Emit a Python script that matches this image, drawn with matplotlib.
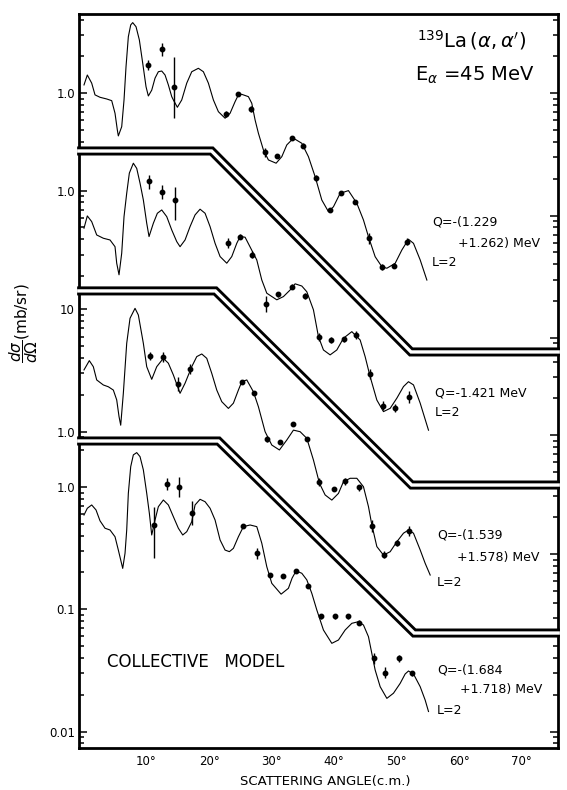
import numpy as np
import matplotlib.pyplot as plt
from matplotlib.ticker import NullFormatter

plt.rcParams['font.family'] = 'DejaVu Sans'

# ---- values: angle (deg, c.m.) and dsigma/dOmega (mb/sr) ----

# panel 1: Q = -(1.229 + 1.262) MeV
p1_curve_ang = [0.0, 0.53, 1.23, 1.76, 2.56, 3.63, 4.43, 4.96, 5.33, 5.49, 6.03, 6.40, 6.72, 7.09, 7.47,
                7.79, 8.32, 8.85, 9.39, 9.92, 10.29, 10.83, 11.36, 11.89, 12.43, 12.96, 13.49, 14.03,
                14.29, 14.93, 15.63, 16.43, 17.23, 18.29, 19.09, 19.89, 20.69, 21.49, 22.56, 23.36,
                24.16, 24.69, 25.23, 26.29, 26.83, 27.36, 27.89, 28.69, 29.49, 30.72, 31.63, 32.43,
                33.49, 34.83, 35.89, 36.96, 38.03, 39.09, 39.89, 40.96, 42.29, 43.63, 44.69, 45.49,
                46.56, 47.63, 48.43, 49.76, 50.83, 51.89, 52.69, 53.76, 54.83]
p1_curve_xs = [1.17, 1.41, 1.21, 0.97, 0.927, 0.898, 0.870, 0.686, 0.501, 0.448, 0.533, 0.882, 1.65, 2.90, 3.62,
               3.78, 3.50, 2.73, 1.76, 1.13, 0.95, 1.06, 1.33, 1.50, 1.52, 1.41, 1.17, 0.938,
               0.882, 0.768, 0.882, 1.21, 1.50, 1.60, 1.50, 1.21, 0.882, 0.707, 0.625, 0.686,
               0.854, 0.97, 0.98, 0.938, 0.828, 0.605, 0.471, 0.344, 0.285, 0.268, 0.303, 0.378,
               0.429, 0.390, 0.303, 0.208, 0.134, 0.1076, 0.118, 0.152, 0.160, 0.126, 0.092, 0.0672,
               0.0461, 0.0382, 0.0371, 0.0407, 0.0523, 0.064, 0.0593, 0.0434, 0.0297]
p1_ang = [10.3, 12.4, 14.4, 22.7, 24.6, 26.7, 29.0, 30.8, 33.2, 35.0, 37.1, 39.4, 41.1, 43.4, 45.5, 47.6, 49.6, 51.6]
p1_xs = [1.70, 2.29, 1.12, 0.677, 0.99, 0.744, 0.330, 0.307, 0.429, 0.373, 0.202, 0.111, 0.152, 0.130,
         0.0652, 0.0382, 0.0389, 0.0612]
p1_lo = [1.55, 2.02, 0.63, 0.64, 0.95, 0.70, 0.30, 0.30, 0.42, 0.36, 0.19, 0.107, 0.148, 0.125,
         0.059, 0.036, 0.037, 0.058]
p1_hi = [1.86, 2.60, 1.97, 0.72, 1.03, 0.79, 0.36, 0.32, 0.44, 0.39, 0.215, 0.115, 0.157, 0.135,
         0.072, 0.040, 0.041, 0.065]

# panel 2: Q = -1.421 MeV
p2_curve_ang = [0.0, 0.53, 1.23, 2.03, 3.09, 4.16, 4.96, 5.23, 5.6, 6.03, 6.4, 6.83, 7.25, 7.89, 8.43,
                8.96, 9.49, 10.03, 10.4, 11.09, 11.73, 12.43, 13.23, 14.03, 14.83, 15.36, 16.16, 16.96,
                17.76, 18.56, 19.36, 20.16, 20.96, 21.76, 22.83, 23.63, 24.43, 24.96, 25.76, 27.63,
                28.43, 29.23, 30.83, 31.89, 32.96, 33.76, 34.83, 35.63, 36.69, 37.49, 38.29, 39.36,
                40.43, 41.49, 42.83, 44.16, 44.96, 45.76, 46.83, 47.89, 48.96, 50.03, 51.09, 51.89,
                52.69, 53.76, 55.09]
p2_curve_xs = [0.493, 0.621, 0.558, 0.434, 0.408, 0.395, 0.348, 0.255, 0.205, 0.308, 0.613, 0.952, 1.39, 1.675, 1.52,
               1.15, 0.839, 0.541, 0.421, 0.541, 0.653, 0.695, 0.613, 0.477, 0.383, 0.348, 0.395, 0.508,
               0.633, 0.705, 0.653, 0.508, 0.371, 0.289, 0.255, 0.289, 0.371, 0.421, 0.416, 0.271,
               0.186, 0.145, 0.128, 0.136, 0.154, 0.173, 0.166, 0.149, 0.106, 0.064, 0.0498, 0.0454,
               0.0498, 0.0621, 0.0703, 0.0601, 0.0439, 0.0301, 0.0194, 0.0156, 0.0166, 0.0201, 0.0250, 0.0274,
               0.0258, 0.0183, 0.0110]
p2_ang = [10.4, 12.5, 14.6, 23.0, 25.0, 26.9, 29.1, 31.1, 33.3, 35.4, 37.5, 39.5, 41.5, 43.5, 45.7, 47.8, 49.8, 51.9]
p2_xs = [1.19, 0.98, 0.84, 0.376, 0.421, 0.298, 0.118, 0.142, 0.164, 0.138, 0.064, 0.060, 0.0613, 0.066,
         0.0317, 0.0175, 0.0168, 0.0207]
p2_lo = [1.04, 0.86, 0.57, 0.34, 0.40, 0.28, 0.101, 0.135, 0.157, 0.131, 0.059, 0.057, 0.058, 0.061,
         0.029, 0.016, 0.0155, 0.0185]
p2_hi = [1.35, 1.12, 1.07, 0.41, 0.44, 0.32, 0.137, 0.149, 0.171, 0.145, 0.069, 0.063, 0.064, 0.071,
         0.035, 0.019, 0.018, 0.023]

# panel 3: Q = -(1.539 + 1.578) MeV
p3_curve_ang = [0.0, 0.85, 1.49, 2.03, 3.09, 3.89, 4.69, 5.23, 5.6, 5.87, 6.29, 6.83, 7.36, 8.16, 8.69,
                9.49, 10.03, 10.83, 11.63, 12.69, 13.49, 14.29, 15.36, 16.16, 17.23, 18.03, 18.83,
                19.63, 20.43, 21.23, 22.03, 23.09, 23.89, 24.69, 25.23, 26.03, 27.09, 27.89, 28.96,
                30.03, 31.25, 32.43, 33.49, 34.56, 35.63, 36.69, 37.65, 38.56, 39.63, 40.69, 41.49,
                42.56, 43.63, 44.69, 45.49, 46.03, 46.83, 47.89, 48.96, 50.03, 51.09, 51.89, 52.69,
                53.76, 54.56, 55.36]
p3_curve_xs = [3.20, 3.81, 3.40, 2.65, 2.41, 2.33, 2.19, 1.82, 1.33, 1.13, 2.06, 5.28, 8.46, 10.2, 9.0,
               5.28, 3.40, 2.68, 3.40, 3.98, 3.63, 2.91, 2.06, 2.49, 3.40, 4.11, 4.32,
               3.98, 3.00, 2.19, 1.76, 1.55, 1.71, 2.19, 2.56, 2.65, 2.12, 1.60, 1.0,
               0.778, 0.709, 0.855, 1.03, 1.0, 0.883, 0.587, 0.379, 0.304, 0.276, 0.313, 0.390,
               0.416, 0.416, 0.355, 0.244, 0.173, 0.115, 0.098, 0.1044, 0.126, 0.148, 0.157, 0.148,
               0.108, 0.0839, 0.0673]
p3_ang = [10.6, 12.7, 15.0, 16.9, 25.2, 27.2, 29.2, 31.4, 33.5, 35.6, 37.6, 39.9, 41.8, 43.9, 46.0, 48.0, 50.0, 51.9]
p3_xs = [4.18, 4.06, 2.45, 3.26, 2.56, 2.08, 0.867, 0.829, 1.15, 0.867, 0.390, 0.338, 0.395, 0.351,
         0.170, 0.098, 0.124, 0.154]
p3_lo = [3.87, 3.69, 2.15, 2.97, 2.48, 2.0, 0.82, 0.80, 1.11, 0.84, 0.36, 0.325, 0.37, 0.33,
         0.152, 0.092, 0.117, 0.14]
p3_hi = [4.52, 4.46, 2.80, 3.57, 2.64, 2.16, 0.92, 0.86, 1.19, 0.90, 0.42, 0.352, 0.42, 0.37,
         0.19, 0.105, 0.131, 0.17]

# panel 4: Q = -(1.684 + 1.718) MeV
p4_curve_ang = [0.0, 0.53, 1.23, 1.92, 2.56, 3.36, 4.16, 4.96, 5.49, 6.19, 6.56, 6.83, 7.09, 7.47, 7.89,
                8.43, 8.96, 9.49, 10.03, 10.45, 10.83, 11.36, 11.89, 12.69, 13.49, 14.29, 15.09, 15.79,
                16.43, 17.23, 17.76, 18.56, 19.36, 20.16, 20.96, 21.76, 22.56, 23.25, 23.89, 24.69,
                25.49, 26.56, 27.63, 28.43, 29.23, 30.03, 31.52, 32.69, 33.28, 33.92, 34.83, 35.63,
                36.43, 37.23, 38.29, 39.63, 40.69, 41.76, 42.83, 43.89, 44.69, 45.49, 46.56, 47.36,
                48.43, 49.49, 50.56, 51.36, 51.89, 52.69, 53.76, 54.56, 55.09]
p4_curve_xs = [0.590, 0.670, 0.713, 0.649, 0.529, 0.460, 0.445, 0.392, 0.305, 0.216, 0.287, 0.445, 0.888, 1.466, 1.83,
               1.91, 1.77, 1.38, 0.888, 0.610, 0.405, 0.537, 0.690, 0.783, 0.713, 0.572, 0.460, 0.405,
               0.431, 0.520, 0.713, 0.793, 0.758, 0.670, 0.537, 0.369, 0.305, 0.296, 0.315, 0.392,
               0.474, 0.489, 0.474, 0.347, 0.223, 0.163, 0.133, 0.1485, 0.180, 0.206, 0.197, 0.174,
               0.135, 0.0987, 0.0677, 0.0527, 0.0561, 0.0677, 0.0768, 0.0792, 0.0744, 0.0597, 0.0319, 0.0233,
               0.0187, 0.0206, 0.0248, 0.0296, 0.0313, 0.0296, 0.0233, 0.0181, 0.0146]
p4_ang = [11.2, 13.2, 15.2, 17.2, 25.5, 27.6, 29.8, 31.8, 33.9, 35.9, 37.9, 40.2, 42.2, 44.0, 46.3, 48.2, 50.3, 52.4]
p4_xs = [0.489, 1.05, 1.0, 0.610, 0.480, 0.287, 0.191, 0.187, 0.207, 0.155, 0.0881, 0.0875, 0.0875,
         0.0777, 0.0397, 0.0303, 0.0397, 0.030]
p4_lo = [0.261, 0.94, 0.83, 0.487, 0.46, 0.26, 0.183, 0.180, 0.199, 0.149, 0.084, 0.084, 0.084,
         0.074, 0.036, 0.0275, 0.037, 0.0285]
p4_hi = [0.690, 1.18, 1.21, 0.764, 0.50, 0.315, 0.199, 0.195, 0.215, 0.161, 0.092, 0.091, 0.091,
         0.081, 0.044, 0.0335, 0.0425, 0.0315]

q_labels = [
    ["Q=-(1.229", "+1.262) MeV", "L=2"],
    ["Q=-1.421 MeV", "L=2"],
    ["Q=-(1.539", "+1.578) MeV", "L=2"],
    ["Q=-(1.684", "+1.718) MeV", "L=2"],
]

# ---- layout ----
W, H = 567, 790
fig = plt.figure(figsize=(W / 100, H / 100), dpi=100)
rect = [79 / W, (H - 748) / H, (558 - 79) / W, (748 - 14) / H]
XMIN, XMAX = -0.8, 75.8
G_BOT, G_TOP = -2.134, 3.867          # log10 span of the whole frame

# frame with the angle axis, in "decades" on y
frame = fig.add_axes(rect)
frame.set_xlim(XMIN, XMAX)
frame.set_ylim(G_BOT, G_TOP)
frame.set_yticks([])
angles = list(range(10, 80, 10))
frame.set_xticks(angles)
frame.set_xticklabels([f"{a}°" for a in angles], fontsize=8.5)
frame.tick_params(axis='x', length=0, pad=5)
for s in frame.spines.values():
    s.set_linewidth(2.0)

# zig-zag double borders between the panels
separators = [
    ([XMIN - 0.3, 20.4, 52.3, XMAX + 0.3], [2.747, 2.747, 1.104, 1.104]),
    ([XMIN - 0.3, 21.0, 52.4, XMAX + 0.3], [1.603, 1.603, 0.016, 0.016]),
    ([XMIN - 0.3, 21.5, 52.8, XMAX + 0.3], [0.376, 0.376, -1.194, -1.194]),
]
for sx, sy in separators:
    frame.plot(sx, sy, color='black', lw=6.5, solid_joinstyle='miter',
               solid_capstyle='butt', clip_on=False, zorder=5)
    frame.plot(sx, sy, color='white', lw=2.4, solid_joinstyle='miter',
               solid_capstyle='butt', clip_on=False, zorder=6)


def panel_ticks(off, g_lo, g_hi):
    major, minor = [], []
    for d in range(-4, 3):
        for m in range(1, 10):
            v = m * 10.0 ** d
            g = np.log10(v) + off
            if g_lo <= g <= g_hi:
                (major if m == 1 else minor).append(v)
    return major, minor


def tick_label(v):
    if abs(v - 1) < 1e-9:
        return "1.0"
    if abs(v - 10) < 1e-9:
        return "10"
    return f"{v:g}"


panels = [
    (p1_curve_ang, p1_curve_xs, p1_ang, p1_xs, p1_lo, p1_hi, 3.219, (2.78, G_TOP), (1.14, G_TOP)),
    (p2_curve_ang, p2_curve_xs, p2_ang, p2_xs, p2_lo, p2_hi, 2.423, (1.63, 2.71), (0.05, 1.07)),
    (p3_curve_ang, p3_curve_xs, p3_ang, p3_xs, p3_lo, p3_hi, 0.452, (0.40, 1.57), (-1.16, -0.02)),
    (p4_curve_ang, p4_curve_xs, p4_ang, p4_xs, p4_lo, p4_hi, 0.0, (G_BOT, 0.34), (G_BOT, -1.23)),
]

for cang, cxs, ang, xs, lo, hi, off, lrange, rrange in panels:
    ax = fig.add_axes(rect)
    ax.set_frame_on(False)
    ax.set_yscale('log')
    ax.set_xlim(XMIN, XMAX)
    ax.set_ylim(10 ** (G_BOT - off), 10 ** (G_TOP - off))
    ax.xaxis.set_visible(False)

    ax.plot(cang, cxs, color='black', lw=0.8)
    xs = np.array(xs)
    ax.errorbar(ang, xs, yerr=[xs - np.array(lo), np.array(hi) - xs], fmt='o', ms=3.2,
                color='black', elinewidth=1.0, capsize=0)

    major, minor = panel_ticks(off, *lrange)
    ax.set_yticks(major, [tick_label(v) for v in major])
    ax.set_yticks(minor, minor=True)
    ax.yaxis.set_minor_formatter(NullFormatter())
    ax.tick_params(axis='y', which='both', direction='in', width=1.1, labelsize=8.5, pad=3)
    ax.tick_params(axis='y', which='major', length=5.5)
    ax.tick_params(axis='y', which='minor', length=3.5)

    axr = ax.twinx()
    axr.set_frame_on(False)
    axr.set_yscale('log')
    axr.set_ylim(ax.get_ylim())
    major, minor = panel_ticks(off, *rrange)
    axr.set_yticks(major, [""] * len(major))
    axr.set_yticks(minor, minor=True)
    axr.yaxis.set_minor_formatter(NullFormatter())
    axr.tick_params(axis='y', which='both', direction='in', width=1.1)
    axr.tick_params(axis='y', which='major', length=5.5)
    axr.tick_params(axis='y', which='minor', length=3.5)

# ---- texts ----
def put(x, y, s, **kw):
    fig.text(x / W, 1 - y / H, s, **kw)


put(472, 40, r"$^{139}$La$\,(\alpha,\alpha^{\prime})$", fontsize=14, ha='center', va='center')
put(475, 75, r"E$_{\alpha}$ =45 MeV", fontsize=14, ha='center', va='center')

label_pos = [
    [(432, 222), (458, 244), (432, 263)],
    [(435, 393), (435, 413)],
    [(437, 535), (457, 558), (437, 582)],
    [(437, 670), (460, 690), (437, 710)],
]
for lines, pos in zip(q_labels, label_pos):
    for s, (x, y) in zip(lines, pos):
        put(x, y, s, fontsize=9, ha='left', va='center')

put(107, 662, "COLLECTIVE   MODEL", fontsize=12, ha='left', va='center')
put(325, 782, "SCATTERING ANGLE(c.m.)", fontsize=9.5, ha='center', va='center')
put(24, 323, r"$\dfrac{d\sigma}{d\Omega}$(mb/sr)", fontsize=11, rotation=90, ha='center', va='center')

fig.savefig("out.png", dpi=100)
